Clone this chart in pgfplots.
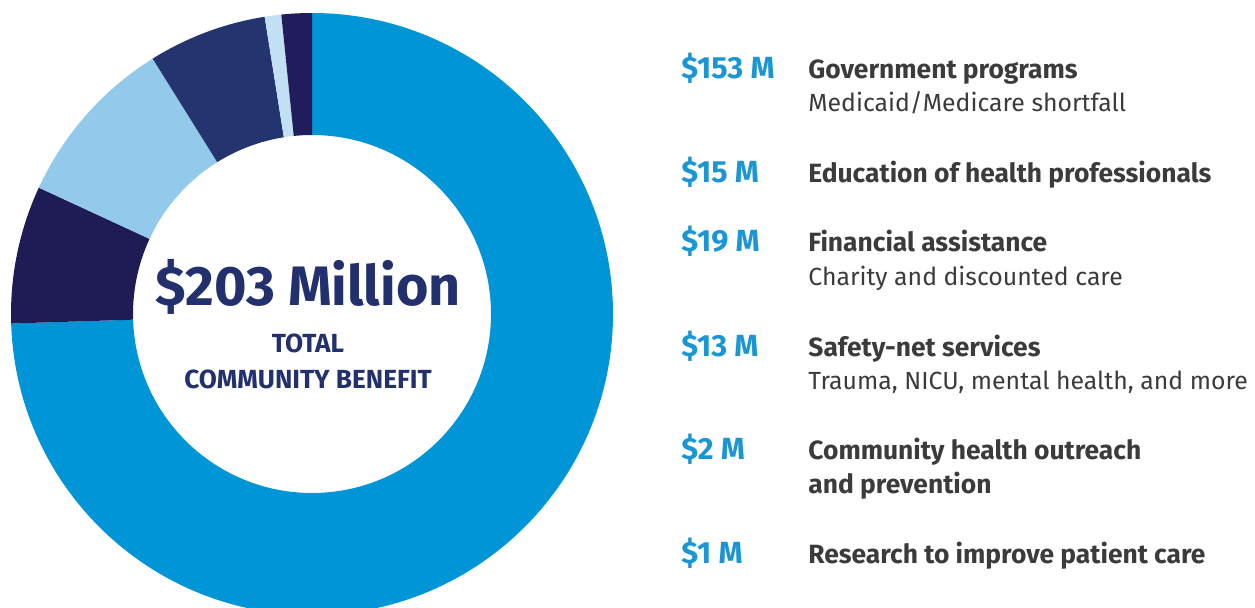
\documentclass[border=0pt]{standalone}
\usepackage{fontspec}
\setmainfont{Fira Sans}
\usepackage{pgfplots}
\usepackage{pgfplotstable}
\pgfplotsset{compat=1.18}

\definecolor{cBlue}{HTML}{0095D6}
\definecolor{cDark}{HTML}{1E1B55}
\definecolor{cLight}{HTML}{93C9EB}
\definecolor{cNavy}{HTML}{24346E}
\definecolor{cPale}{HTML}{C2E0F4}
\definecolor{cDeep}{HTML}{211D5C}
\definecolor{amt}{HTML}{1B96D4}
\definecolor{lbl}{HTML}{3B3B3B}
\definecolor{ctr}{HTML}{22306E}

% slice sizes as drawn (clockwise from 12 o'clock)
\pgfplotstableread{
value color
151.0 cBlue
15.0  cDark
18.7  cLight
12.9  cNavy
1.8   cPale
3.3   cDeep
}\slices

% cumulative angles (done in the preamble so no stray spaces reach the page)
\def\total{0}
\pgfplotsforeachungrouped \i in {0,...,5}{%
  \pgfplotstablegetelem{\i}{value}\of\slices
  \pgfmathsetmacro{\total}{\total+\pgfplotsretval}%
}
\def\cur{90}
\pgfplotsforeachungrouped \i in {0,...,5}{%
  \pgfplotstablegetelem{\i}{value}\of\slices
  \pgfmathsetmacro{\slEnd}{\cur-360*(\pgfplotsretval/\total)}%
  \expandafter\let\csname sa\i\endcsname\cur
  \expandafter\let\csname sb\i\endcsname\slEnd
  \pgfplotstablegetelem{\i}{color}\of\slices
  \expandafter\let\csname sc\i\endcsname\pgfplotsretval
  \let\cur\slEnd
}

\begin{document}
\begin{tikzpicture}
\begin{axis}[
    x=0.5pt, y=0.5pt,
    xmin=0, xmax=1255, ymin=0, ymax=607,
    hide axis, clip=true,
]
\coordinate (bl) at (axis cs:0,0);
\coordinate (tr) at (axis cs:1255,607);
% donut: centre (312,293), outer r 301, inner r 179 (axis units = 0.5pt)
\pgfplotsinvokeforeach{0,...,5}{
  \edef\doslice{\noexpand\fill[fill=\csname sc#1\endcsname]
    (axis cs:312,293) ++(\csname sa#1\endcsname:150.5pt)
    arc[start angle=\csname sa#1\endcsname, end angle=\csname sb#1\endcsname, radius=150.5pt]
    -- ++(\csname sb#1\endcsname+180:61pt)
    arc[start angle=\csname sb#1\endcsname, end angle=\csname sa#1\endcsname, radius=89.5pt]
    -- cycle;}
  \doslice
}

% centre text
\node[anchor=base, text=ctr, font=\bfseries\fontsize{27.8}{30}\selectfont] at (axis cs:308,302) {\$203 Million};
\node[anchor=base, text=ctr, font=\bfseries\fontsize{13.1}{14}\selectfont] at (axis cs:308,255) {TOTAL};
\node[anchor=base, text=ctr, font=\bfseries\fontsize{13.1}{14}\selectfont] at (axis cs:308,219) {COMMUNITY BENEFIT};

% legend list
\tikzset{amount/.style={anchor=base west, inner sep=0pt, text=amt, font=\bfseries\fontsize{15.3}{16}\selectfont},
         head/.style={anchor=base west, inner sep=0pt, text=lbl, font=\bfseries\fontsize{13.2}{15}\selectfont},
         sub/.style={anchor=base west, inner sep=0pt, text=lbl, font=\fontsize{12.4}{14}\selectfont}}
\node[amount] at (axis cs:681,529) {\$153 M};
\node[head] at (axis cs:808,529) {Government programs};
\node[sub]  at (axis cs:808,495) {Medicaid/Medicare shortfall};

\node[amount] at (axis cs:681,425) {\$15 M};
\node[head] at (axis cs:808,425) {Education of health professionals};

\node[amount] at (axis cs:681,356) {\$19 M};
\node[head] at (axis cs:808,356) {Financial assistance};
\node[sub]  at (axis cs:808,322) {Charity and discounted care};

\node[amount] at (axis cs:681,251) {\$13 M};
\node[head] at (axis cs:808,251) {Safety-net services};
\node[sub]  at (axis cs:808,218) {Trauma, NICU, mental health, and more};

\node[amount] at (axis cs:681,148) {\$2 M};
\node[head] at (axis cs:808,148) {Community health outreach};
\node[head] at (axis cs:808,114) {and prevention};

\node[amount] at (axis cs:681,44) {\$1 M};
\node[head] at (axis cs:808,44) {Research to improve patient care};
\end{axis}
\pgfresetboundingbox
\path[use as bounding box] (bl) rectangle (tr);
\end{tikzpicture}
\end{document}
